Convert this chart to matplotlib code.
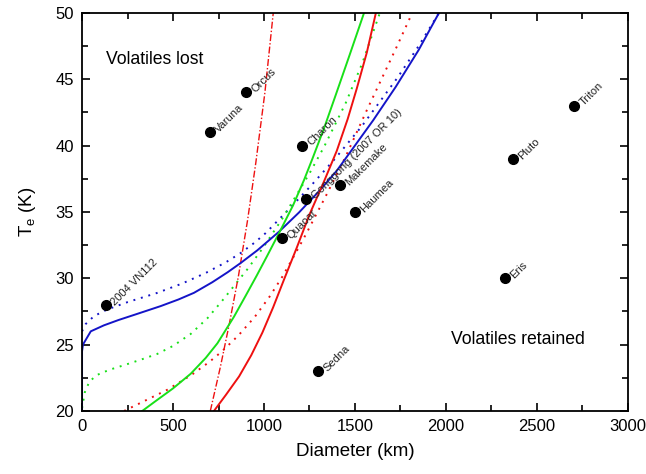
import numpy as np
import matplotlib
matplotlib.use("Agg")
import matplotlib.pyplot as plt
from matplotlib.ticker import MultipleLocator

plt.rcParams["font.family"] = ["Liberation Sans", "DejaVu Sans"]
plt.rcParams["mathtext.fontset"] = "custom"
plt.rcParams["mathtext.rm"] = "Liberation Sans"

# ------------------------------------------------------------
# Bodies: diameter (km) and T_e (K)
# ------------------------------------------------------------
body_names = ["2004 VN112", "Varuna", "Orcus", "Charon", "Gonggong (2007 OR 10)",
              "Makemake", "Haumea", "Quaoar", "Sedna", "Eris", "Pluto", "Triton"]
body_diam = [132, 703, 901, 1209, 1232, 1420, 1500, 1100, 1297, 2326, 2368, 2705]
body_te = [28, 41, 44, 40, 36, 37, 35, 33, 23, 30, 39, 43]

# ------------------------------------------------------------
# Retention curves
# ------------------------------------------------------------
blue_solid_d = [0, 0, 5, 48, 120, 200, 300, 432, 530, 615, 716, 800, 872,
                963, 1082, 1192, 1302, 1400, 1500, 1600, 1723, 1850, 1962]
blue_solid_t = [20, 24.5, 25.0, 26.0, 26.45, 26.85, 27.3, 27.9, 28.4, 28.9,
                29.7, 30.45, 31.15, 32.1, 33.5, 34.95, 36.55, 38.1, 40.0, 41.9,
                44.4, 47.2, 50]

blue_dot_d = [0, 20, 66, 139, 250, 414, 550, 680, 790, 872, 950, 1009, 1137,
              1260, 1390, 1540, 1733, 1850, 1962]
blue_dot_t = [26.0, 26.55, 27.15, 27.65, 28.2, 28.9, 29.6, 30.4, 31.2, 31.9,
              32.7, 33.4, 35.2, 37.0, 39.0, 41.5, 45.1, 47.5, 50]

green_solid_d = [331, 400, 500, 597, 680, 744, 835, 900, 960, 1018, 1090, 1160,
                 1220, 1266, 1330, 1394, 1470, 1550]
green_solid_t = [20, 20.7, 21.7, 22.8, 24.0, 25.1, 27.1, 28.7, 30.2, 31.7, 33.6,
                 35.5, 37.4, 39.0, 41.3, 43.8, 46.8, 50]

green_dot_d = [0, 15, 40, 80, 150, 231, 320, 414, 500, 597, 690, 770, 840, 910,
               1000, 1101, 1180, 1250, 1330, 1449, 1540, 1637]
green_dot_t = [20.2, 21.4, 22.2, 22.7, 23.1, 23.45, 23.85, 24.3, 24.9, 25.8,
               27.0, 28.3, 29.5, 30.7, 32.4, 34.5, 36.3, 37.9, 39.9, 43.2, 46.2, 50]

red_solid_d = [725, 790, 863, 930, 991, 1050, 1110, 1180, 1250, 1330, 1400,
               1460, 1510, 1565, 1615]
red_solid_t = [20, 21.2, 22.6, 24.2, 25.9, 27.8, 29.9, 32.3, 34.8, 37.3, 39.6,
               42.0, 44.3, 47.0, 50]

red_dot_d = [231, 350, 469, 600, 700, 770, 860, 950, 1030, 1100, 1170, 1230,
             1340, 1450, 1563, 1680, 1728, 1815]
red_dot_t = [20, 20.8, 21.6, 22.7, 23.7, 24.5, 25.7, 27.1, 28.6, 30.1, 31.8,
             33.3, 36.2, 39.2, 42.6, 46.0, 47.4, 50]

red_dashdot_d = [705, 760, 810, 860, 910, 955, 1005, 1051]
red_dashdot_t = [20, 23.3, 26.6, 30.2, 34.4, 38.7, 44.0, 50]

BLUE = "#1414c8"
GREEN = "#18e018"
RED = "#ee1010"

fig = plt.figure(figsize=(6.46, 4.74), dpi=100)
ax = fig.add_axes([0.127, 0.133, 0.845, 0.840])

ax.plot(blue_dot_d, blue_dot_t, color=BLUE, lw=1.4, ls=(0, (1, 3)))
ax.plot(green_dot_d, green_dot_t, color=GREEN, lw=1.4, ls=(0, (1, 3)))
ax.plot(red_dot_d, red_dot_t, color=RED, lw=1.4, ls=(0, (1, 3)))
ax.plot(red_dashdot_d, red_dashdot_t, color=RED, lw=1.0, ls=(0, (5, 1.5, 1, 1.5)))
ax.plot(blue_solid_d, blue_solid_t, color=BLUE, lw=1.4)
ax.plot(green_solid_d, green_solid_t, color=GREEN, lw=1.4)
ax.plot(red_solid_d, red_solid_t, color=RED, lw=1.4)

ax.plot(body_diam, body_te, "o", color="black", ms=7, zorder=5)
for name, d, t in zip(body_names, body_diam, body_te):
    ax.annotate(name, (d, t), xytext=(5, 1), textcoords="offset points",
                rotation=45, rotation_mode="anchor", ha="left", va="center",
                fontsize=8, color="#222222")

ax.text(132, 46.45, "Volatiles lost", fontsize=12.7, va="center", ha="left")
ax.text(2027, 25.35, "Volatiles retained", fontsize=12.7, va="center", ha="left")

ax.set_xlim(0, 3000)
ax.set_ylim(20, 50)
ax.xaxis.set_major_locator(MultipleLocator(500))
ax.xaxis.set_minor_locator(MultipleLocator(250))
ax.yaxis.set_major_locator(MultipleLocator(5))
ax.yaxis.set_minor_locator(MultipleLocator(2.5))
ax.tick_params(which="both", direction="in", top=True, right=True,
               labelsize=12, width=1.2)
ax.tick_params(which="major", length=6, pad=6)
ax.tick_params(which="minor", length=4)
for sp in ax.spines.values():
    sp.set_linewidth(1.3)

ax.set_xlabel("Diameter (km)", fontsize=13.5, labelpad=6)
ax.set_ylabel(r"T$_\mathregular{e}$ (K)", fontsize=13.5, labelpad=12)

fig.savefig("out.png", dpi=100)
